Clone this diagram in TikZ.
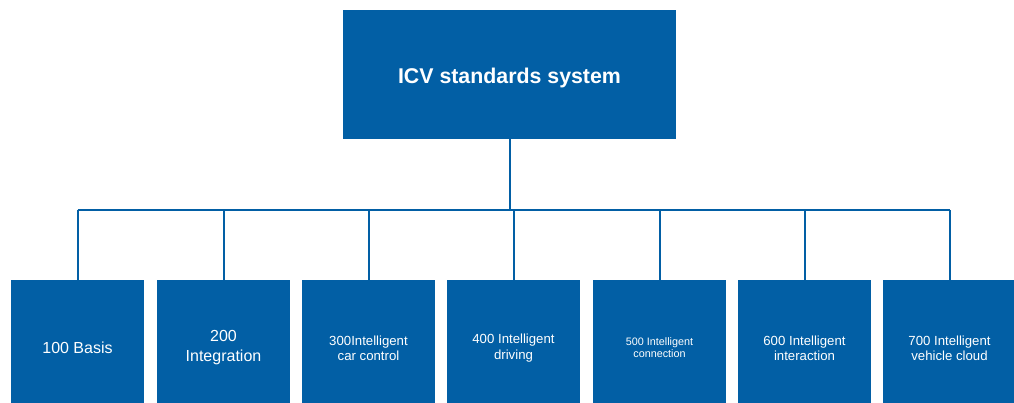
\documentclass[tikz,border=0pt]{standalone}
\usepackage{fontspec}
\setmainfont{Liberation Sans}
\usepackage{tikz}

\definecolor{icvblue}{RGB}{2,95,165}
\tikzset{
  topbox/.style={fill=icvblue,text=white,inner sep=0.75pt,align=center,
    minimum width=249.75pt,minimum height=96.75pt,font=\fontsize{16}{19}\selectfont\bfseries},
  partbox/.style={fill=icvblue,text=white,inner sep=0.75pt,align=center,
    minimum width=99.75pt,minimum height=102pt},
  link/.style={draw=icvblue,line width=1.5pt}
}

\begin{document}
\begin{tikzpicture}[x=0.75pt,y=0.75pt,yscale=-1,xscale=1]
    \useasboundingbox (0,0) rectangle (1014,403);
    \clip (0,0) rectangle (1014,403);

    %Top Rectangle
    \node [topbox] (icv) at (509.5,74.5) {\raisebox{-2.25pt}[\height][\depth]{ICV standards system}};

    %Part Rectangles
    \node [partbox,font=\fontsize{12}{15}\selectfont] (p100) at (77.5,348) {100 Basis};
    \node [partbox,font=\fontsize{12}{15}\selectfont] (p200) at (223.5,348) {200\\Integration};
    \node [partbox,font=\fontsize{9.9}{11.4}\selectfont] (p300) at (368.5,348) {300Intelligent\\car control};
    \node [partbox,font=\fontsize{9.9}{11.4}\selectfont] (p400) at (513.5,348) {400 Intelligent\\driving};
    \node [partbox,font=\fontsize{8.1}{9.2}\selectfont] (p500) at (659.5,348) {500 Intelligent\\connection};
    \node [partbox,font=\fontsize{9.9}{11.4}\selectfont] (p600) at (804.5,348) {600 Intelligent\\interaction};
    \node [partbox,font=\fontsize{9.9}{11.4}\selectfont] (p700) at (949.5,348) {700 Intelligent\\vehicle cloud};

    %Bus line
    \coordinate (bus) at (509.5,210);
    \draw [link] (icv.south) -- (bus);
    \draw [link] (p100.north |- bus) -- (p700.north |- bus);
    \foreach \p in {p100,p200,p300,p400,p500,p600,p700}
      \draw [link] (\p.north |- bus) -- (\p.north);

\end{tikzpicture}
\end{document}
